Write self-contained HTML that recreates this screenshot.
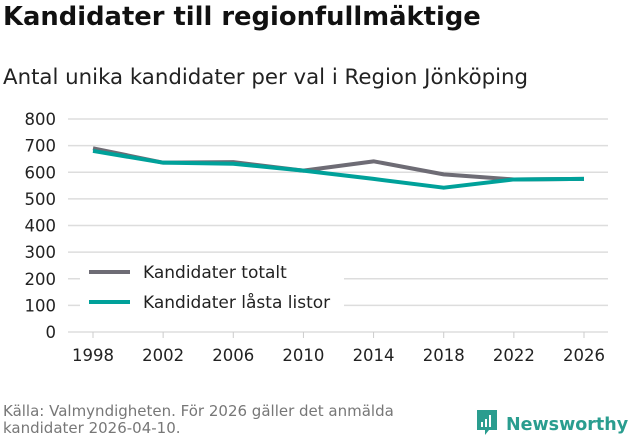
<!DOCTYPE html>
<html><head><meta charset="utf-8"><style>
body{margin:0;width:631px;height:439px;background:#fff;font-family:"DejaVu Sans","Liberation Sans",sans-serif;overflow:hidden;position:relative}
h1{position:absolute;left:3px;top:2px;margin:0;font-size:25.8px;font-weight:bold;color:#111;white-space:nowrap}
.sub{position:absolute;left:3px;top:65px;font-size:21.3px;color:#222;white-space:nowrap}
.src{position:absolute;left:3px;top:403px;font-size:15px;color:#777;line-height:17px;white-space:nowrap}
.logo{position:absolute;left:475px;top:408px;font-size:17.5px;color:#2a9d8f;font-weight:600;white-space:nowrap}
</style></head><body>
<h1>Kandidater till regionfullmäktige</h1>
<div class="sub">Antal unika kandidater per val i Region Jönköping</div>
<svg id="c" width="631" height="439" style="position:absolute;left:0;top:0"></svg>
<div class="src">Källa: Valmyndigheten. För 2026 gäller det anmälda<br>kandidater 2026-04-10.</div>
<div class="logo"><svg width="24" height="28" style="vertical-align:-6px;margin-right:7px"><path d="M2 2h20v20h-8l-4 5v-5H2z" fill="#2a9d8f"/><rect x="6" y="14" width="2" height="5" fill="#fff"/><rect x="10" y="11" width="2" height="8" fill="#fff"/><rect x="14" y="7" width="2" height="12" fill="#fff"/></svg>Newsworthy</div>
<script>
const years=[1998,2002,2006,2010,2014,2018,2022,2026];
const totalt=[690,636,638,606,641,592,573,575];
const lasta=[680,636,632,606,575,542,573,575];
const yTicks=[0,100,200,300,400,500,600,700,800];
const NS="http://www.w3.org/2000/svg",svg=document.getElementById('c');
const x=v=>93+(v-1998)*(584-93)/28, y=v=>332-v*(332-119)/800;
function el(t,a){const e=document.createElementNS(NS,t);for(const k in a)e.setAttribute(k,a[k]);svg.appendChild(e);return e;}
yTicks.forEach(t=>{const g=el('line',{x1:68,x2:608,y1:y(t),y2:y(t),stroke:'#ddd','stroke-width':1.5});


const l=el('text',{x:56,y:y(t)+6,'text-anchor':'end','font-size':16.5,fill:'#222'});l.textContent=t;

});
years.forEach(v=>{const tk=el('line',{x1:x(v),x2:x(v),y1:332,y2:338,stroke:'#ccc'});


const l=el('text',{x:x(v),y:361,'text-anchor':'middle','font-size':16.5,fill:'#222'});l.textContent=v;

});
[[totalt,'#6e6c75','series-totalt'],[lasta,'#00a19a','series-lasta-listor']].forEach(([d,c,n])=>{
const p=el('polyline',{points:d.map((v,i)=>x(years[i])+','+y(v)).join(' '),fill:'none',stroke:c,'stroke-width':4,'stroke-linejoin':'round'});

});
const bg=el('rect',{x:80,y:257,width:264,height:60,fill:'#fff'});


[['Kandidater totalt','#6e6c75',272],['Kandidater låsta listor','#00a19a',302]].forEach(([t,c,yy])=>{
const ln=el('line',{x1:89,x2:130,y1:yy,y2:yy,stroke:c,'stroke-width':4});


const tx=el('text',{x:143,y:yy+6,'font-size':17,fill:'#222'});tx.textContent=t;

});
</script>
</body></html>
